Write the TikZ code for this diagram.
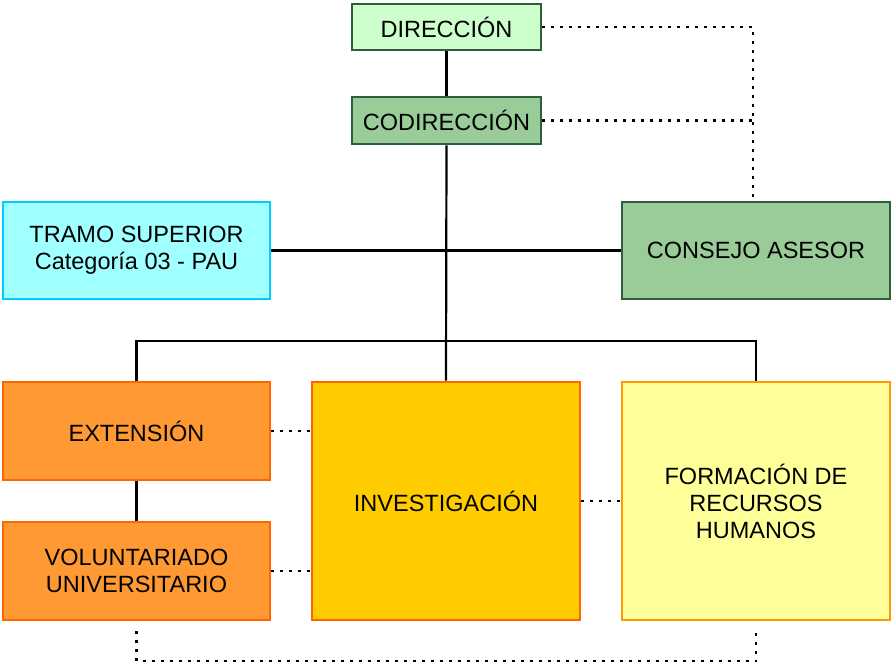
\documentclass[tikz,border=0pt]{standalone}
\usepackage{fontspec}
\setmainfont{Liberation Sans}
\usetikzlibrary{calc}
\definecolor{dirfill}{HTML}{CCFFCC}
\definecolor{codfill}{HTML}{99CC99}
\definecolor{grnline}{HTML}{2F5F3A}
\definecolor{cyanfill}{HTML}{A0FFFF}
\definecolor{cyanline}{HTML}{00CCFF}
\definecolor{orgfill}{HTML}{FF9933}
\definecolor{orgline}{HTML}{FF6600}
\definecolor{invfill}{HTML}{FFCC00}
\definecolor{formfill}{HTML}{FFFF99}
\definecolor{formline}{HTML}{FF9900}

\begin{document}
\begin{tikzpicture}[x=1pt, y=-1pt, font=\fontsize{23.5}{27}\selectfont,
  box/.style={draw, line width=2.6pt, align=center, inner sep=2pt, minimum width=267pt, minimum height=97pt},
  topbox/.style={box, minimum width=189pt, minimum height=46pt, draw=grnline},
  grnbox/.style={box, fill=codfill, draw=grnline},
  cyanbox/.style={box, fill=cyanfill, draw=cyanline},
  orgbox/.style={box, fill=orgfill, draw=orgline},
  conn/.style={line width=2.2pt},
  dotline/.style={line width=2.2pt, dash pattern=on 3pt off 6pt}]
\useasboundingbox (0,0) rectangle (894,663);
% ---------------- top of the chart
\node[topbox, fill=dirfill] (dir) at (446.5,27) {DIRECCIÓN};
\node[topbox, fill=codfill, minimum height=47pt] (codir) at (446.5,120.5) {CODIRECCIÓN};
\node[cyanbox] (tramo) at (136.5,250.5) {TRAMO SUPERIOR\\Categoría 03 - PAU};
\node[grnbox, minimum width=268pt] (cons) at (756,250.5) {CONSEJO ASESOR};
% ---------------- areas
\node[orgbox, minimum height=98pt] (ext) at (136.5,431) {EXTENSIÓN};
\node[orgbox, minimum height=98pt] (vol) at (136.5,571) {VOLUNTARIADO\\UNIVERSITARIO};
\node[box, fill=invfill, draw=orgline, minimum width=268pt, minimum height=238pt] (inv) at (446,501) {INVESTIGACIÓN};
\node[box, fill=formfill, draw=formline, minimum width=268pt, minimum height=238pt] (form) at (756,501) {FORMACIÓN DE\\RECURSOS\\HUMANOS};
% ---------------- solid links
\coordinate (bus) at (446,341);
\draw[conn] (dir) -- (codir);
\draw[conn] (codir.south) -- (inv.north);
\draw[conn] (tramo.east) -- (cons.west);
\draw[conn] (ext.north) |- (bus) -| (form.north);
\draw[conn] (ext.south) -- (vol.north);
% ---------------- dotted links
\draw[dotline] (dir.east) -| ([xshift=-3pt]cons.north);
\draw[dotline] (codir.east) -- ($(codir.east -| cons.north)+(-3,0)$);
\draw[dotline] (ext.east) -- (ext.east -| inv.west);
\draw[dotline] (vol.east) -- (vol.east -| inv.west);
\draw[dotline] (inv.east) -- (inv.east -| form.west);
\draw[dotline] ([yshift=-10pt]vol.south) |- ([yshift=-40pt]form.south) -- ([yshift=-10pt]form.south);
\end{tikzpicture}
\end{document}
